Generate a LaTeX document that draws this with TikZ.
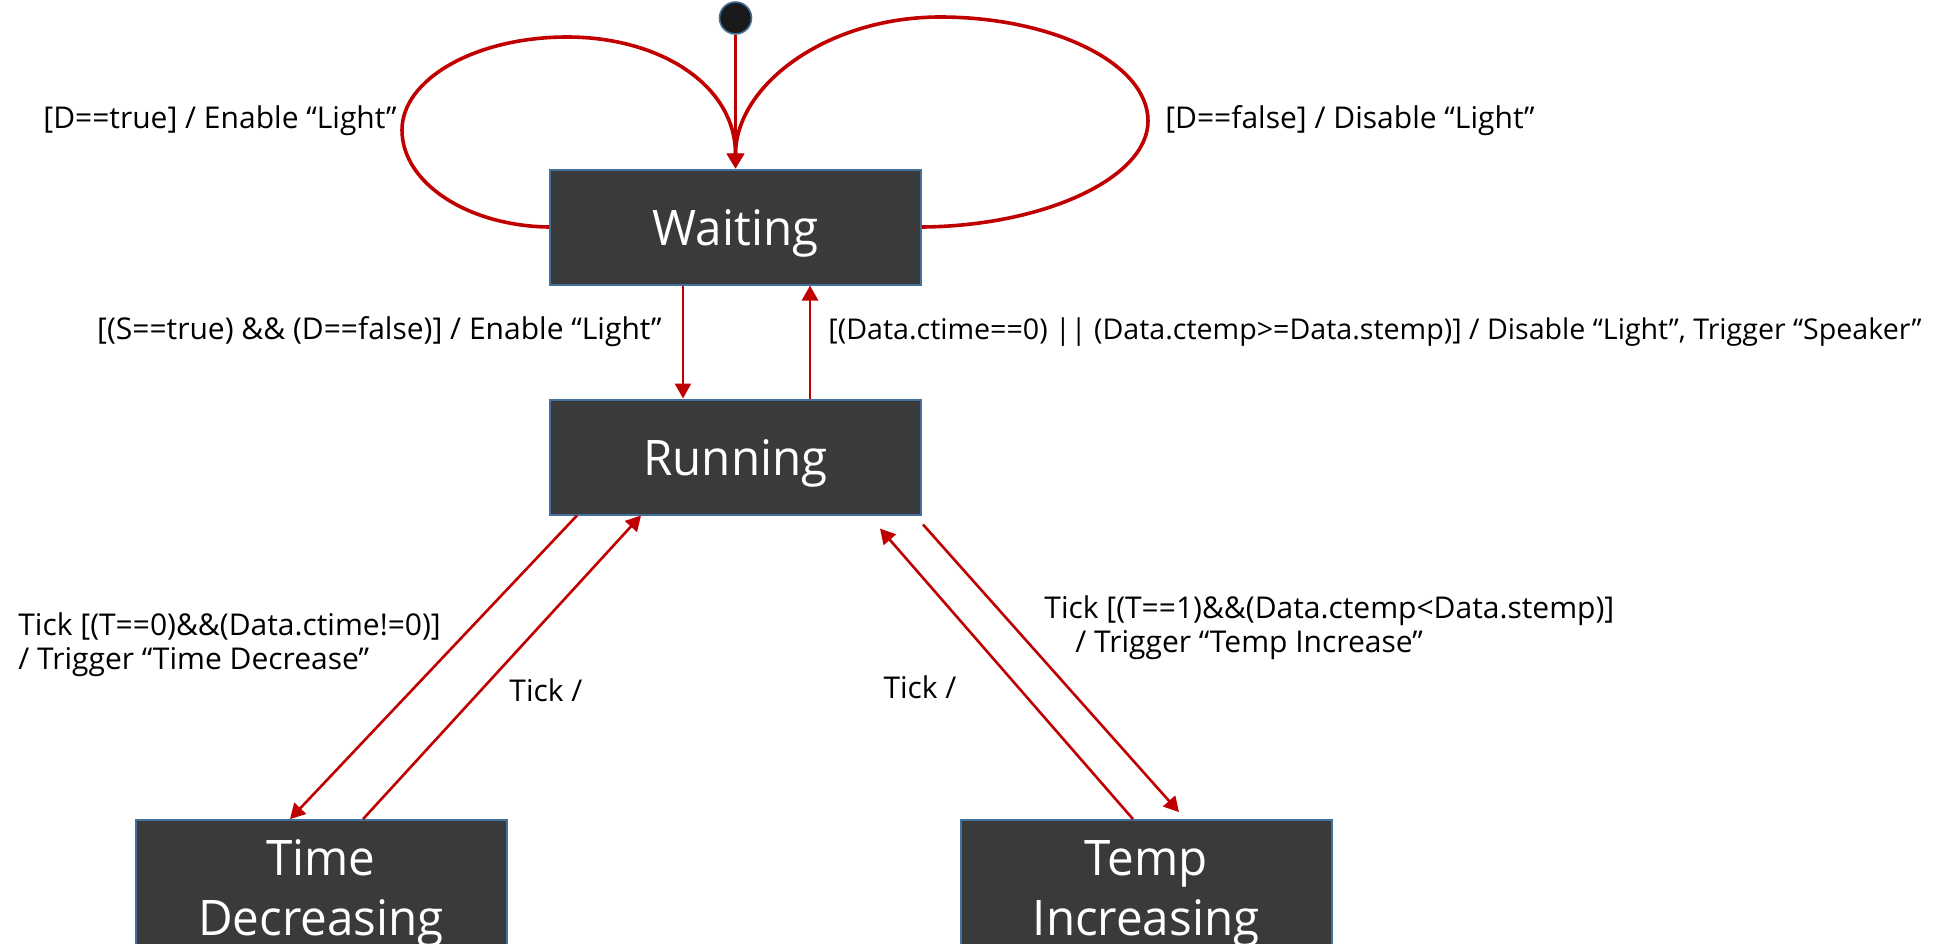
\documentclass[tikz,border=0pt]{standalone}
\usepackage{fontspec}
\setmainfont{Open Sans}
\newfontfamily\boxfont[FakeStretch=0.97]{Open Sans}
\usetikzlibrary{arrows.meta}
\definecolor{boxfill}{HTML}{3A3A3A}
\definecolor{boxline}{HTML}{41719C}
\definecolor{arrred}{HTML}{C00000}
\definecolor{dotfill}{HTML}{1A1A1A}
\begin{document}
\begin{tikzpicture}[x=0.5pt,y=-0.5pt,
  state/.style={draw=boxline, line width=1pt, fill=boxfill, text=white,
    minimum width=185.5pt, minimum height=57.5pt, inner sep=0pt, align=center,
    font=\boxfont\fontsize{24.5}{30}\selectfont},
  trans/.style={draw=arrred, line width=1.3pt, -{Triangle[length=7.5pt,width=8pt]}},
  loopline/.style={draw=arrred, line width=1.8pt, -{Triangle[length=7.5pt,width=8.5pt]}},
  lbl/.style={font=\fontsize{15}{17}\selectfont, inner sep=0pt, align=left, text=black}]
\useasboundingbox (0,0) rectangle (1959,943);

\node[circle, draw=boxline, fill=dotfill, line width=0.8pt, minimum size=16pt, inner sep=0pt] (init) at (735.5,18) {};
\node[state] (W) at (735.5,227) {\rule{0pt}{24.5pt}Waiting};
\node[state] (R) at (735.5,457) {\rule{0pt}{24.5pt}Running};
\node[state] (TD) at (321,883.5) {\rule{0pt}{27.5pt}Time\\Decreasing};
\node[state] (TI) at (1146,883.5) {\rule{0pt}{27.5pt}Temp\\Increasing};

\draw[loopline] (W.west) .. controls (468,226) and (402,183) .. (402,130)
  .. controls (402,79) and (476,37) .. (567,37)
  .. controls (660,37) and (735.5,85) .. (W.north);
\draw[loopline] (W.east) .. controls (1044,226) and (1148,178) .. (1148,121)
  .. controls (1148,63) and (1052,17) .. (940,17)
  .. controls (827,17) and (735.5,85) .. (W.north);
\draw[trans] (init.south) -- (W.north);

\draw[trans] ([xshift=-26.25pt]W.south) -- ([xshift=-26.25pt]R.north);
\draw[trans] ([xshift=37.25pt]R.north) -- ([xshift=37.25pt]W.south);
\draw[trans] ([xshift=-79.25pt]R.south) -- ([xshift=-15.5pt]TD.north);
\draw[trans] ([xshift=21pt]TD.north) -- ([xshift=-47.25pt]R.south);
\draw[trans] ([xshift=-6.5pt]TI.north) -- ([xshift=72.25pt,yshift=-6.5pt]R.south);
\draw[trans] ([xshift=0.5pt,yshift=-4.5pt]R.south east) -- ([xshift=16.5pt,yshift=3.5pt]TI.north);

\node[lbl] (l1) at (220,121) {[D==true] / Enable “Light”};
\node[lbl] (l2) at (1350,121) {[D==false] / Disable “Light”};
\node[lbl, anchor=east] (l3) at (662,332) {[(S==true) \&\& (D==false)] / Enable “Light”};
\node[lbl, anchor=west, font=\fontsize{14.3}{17}\selectfont] (l4) at (828,332) {[(Data.ctime==0) || (Data.ctemp>=Data.stemp)] / Disable “Light”, Trigger “Speaker”};
\node[lbl, anchor=west] (l5) at (18,645) {Tick [(T==0)\&\&(Data.ctime!=0)]\\/ Trigger “Time Decrease”};
\node[lbl] (l6) at (546,690) {Tick /};
\node[lbl] (l7) at (920,687) {Tick /};
\node[lbl, anchor=west] (l8) at (1044,628) {Tick [(T==1)\&\&(Data.ctemp<Data.stemp)]\\\hspace*{15.5pt}/ Trigger “Temp Increase”};
\end{tikzpicture}
\end{document}
